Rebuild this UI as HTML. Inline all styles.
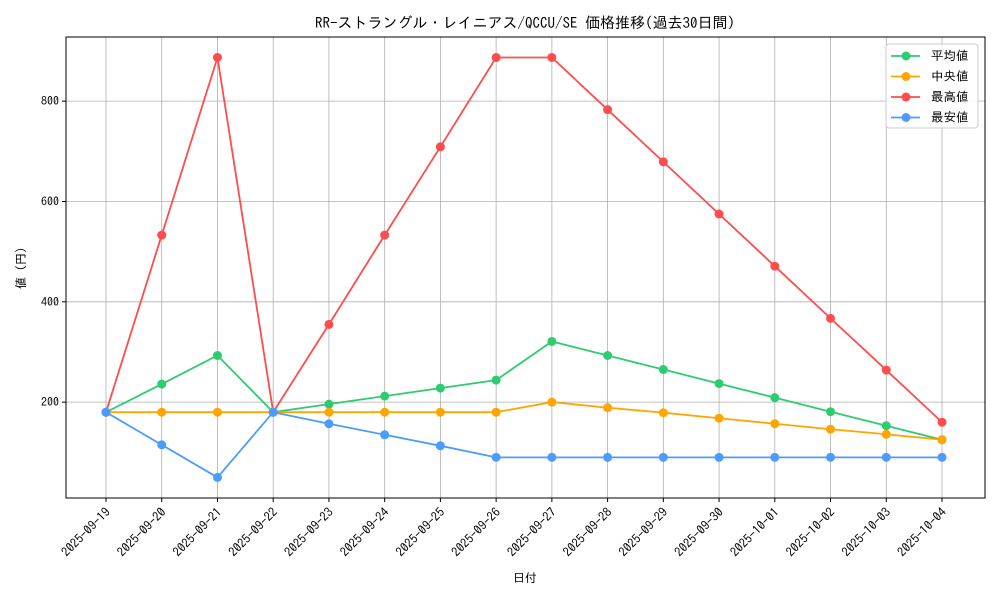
<!DOCTYPE html>
<html><head><meta charset="utf-8"><style>
body{margin:0;background:#fff;}
svg{font-family:"IPAGothic","Liberation Mono","Noto Sans CJK JP",monospace;}
</style></head><body>
<svg id="c" width="1000" height="600" xmlns="http://www.w3.org/2000/svg">
<rect x="0" y="0" width="1000" height="600" fill="#fff"/>
<text x="525" y="28" font-size="15" text-anchor="middle">RR-ストラングル・レイニアス/QCCU/SE 価格推移(過去30日間)</text>
<text x="525" y="582" font-size="12" text-anchor="middle">日付</text>
<text transform="translate(25,268) rotate(-90)" font-size="12" text-anchor="middle">値 (円)</text>
<g id="grid"></g><g id="series"></g><g id="axes"></g>
<g>
<rect x="886" y="44" width="92" height="84" rx="3" fill="#fff" fill-opacity="0.85" stroke="#ccc"/>
<g id="legend"></g>
</g>
</svg>
<script>
const categories=["2025-09-19","2025-09-20","2025-09-21","2025-09-22","2025-09-23","2025-09-24","2025-09-25","2025-09-26","2025-09-27","2025-09-28","2025-09-29","2025-09-30","2025-10-01","2025-10-02","2025-10-03","2025-10-04"];
const avgValues=[180,236,293,180,196,212,228,244,321,293,265,237,209,181,153,125];
const medianValues=[180,180,180,180,180,180,180,180,200,189,179,168,157,146,136,125];
const maxValues=[180,533,887,180,355,533,709,887,887,783,679,575,471,367,264,160];
const minValues=[180,115,50,180,157,135,113,90,90,90,90,90,90,90,90,90];
const yTicks=[200,400,600,800];
const seriesNames=["平均値","中央値","最高値","最安値"];
const NS="http://www.w3.org/2000/svg";
const L=66,R=985,T=37,B=498;
function xs(i){return 106+i*(942-106)/(categories.length-1);}
function ys(v){return 502.5-v*0.5017;}
function mk(tag,attrs,parent){const e=document.createElementNS(NS,tag);for(const k in attrs)e.setAttribute(k,attrs[k]);parent.appendChild(e);return e;}
const grid=document.getElementById('grid'),axes=document.getElementById('axes'),sg=document.getElementById('series'),lg=document.getElementById('legend');
categories.forEach((c,i)=>{
 const g=mk('line',{x1:xs(i),x2:xs(i),y1:T,y2:B,stroke:'#b0b0b0','stroke-width':0.8},grid);
 
 
 mk('line',{x1:xs(i),x2:xs(i),y1:B,y2:B+4,stroke:'#000'},axes);
 const t=mk('text',{x:xs(i)+5,y:B+15,'font-size':12.5,'text-anchor':'end',transform:`rotate(-45 ${xs(i)+5} ${B+15})`},axes);
 t.textContent=c;
 
 
});
yTicks.forEach(v=>{
 const g=mk('line',{x1:L,x2:R,y1:ys(v),y2:ys(v),stroke:'#b0b0b0','stroke-width':0.8},grid);
 
 
 mk('line',{x1:L-4,x2:L,y1:ys(v),y2:ys(v),stroke:'#000'},axes);
 const t=mk('text',{x:L-7,y:ys(v)+4,'font-size':12,'text-anchor':'end'},axes);
 t.textContent=v;
 
 
});
const fr=mk('rect',{x:L,y:T,width:R-L,height:B-T,fill:'none',stroke:'#000','stroke-width':1},axes);


const series=[[avgValues,'#2ecc71','avg'],[medianValues,'#ffa500','median'],[maxValues,'#ff4c4c','max'],[minValues,'#4c9cff','min']];
series.forEach(([vals,col,nm],si)=>{
 const g=mk('g',{},sg);
 
 
 mk('polyline',{points:vals.map((v,i)=>xs(i)+','+ys(v)).join(' '),fill:'none',stroke:col,'stroke-width':1.8},g);
 vals.forEach((v,i)=>{
  const p=mk('circle',{cx:xs(i),cy:ys(v),r:4.5,fill:col},g);
  
  
 });
 const ly=56+si*20.5;
 const e=mk('g',{},lg);
 
 
 mk('line',{x1:891,x2:920,y1:ly,y2:ly,stroke:col,'stroke-width':1.8},e);
 mk('circle',{cx:906,cy:ly,r:4.5,fill:col},e);
 const t=mk('text',{x:931,y:ly+4,'font-size':12.5},e);
 t.textContent=seriesNames[si];
});
</script>
</body></html>
